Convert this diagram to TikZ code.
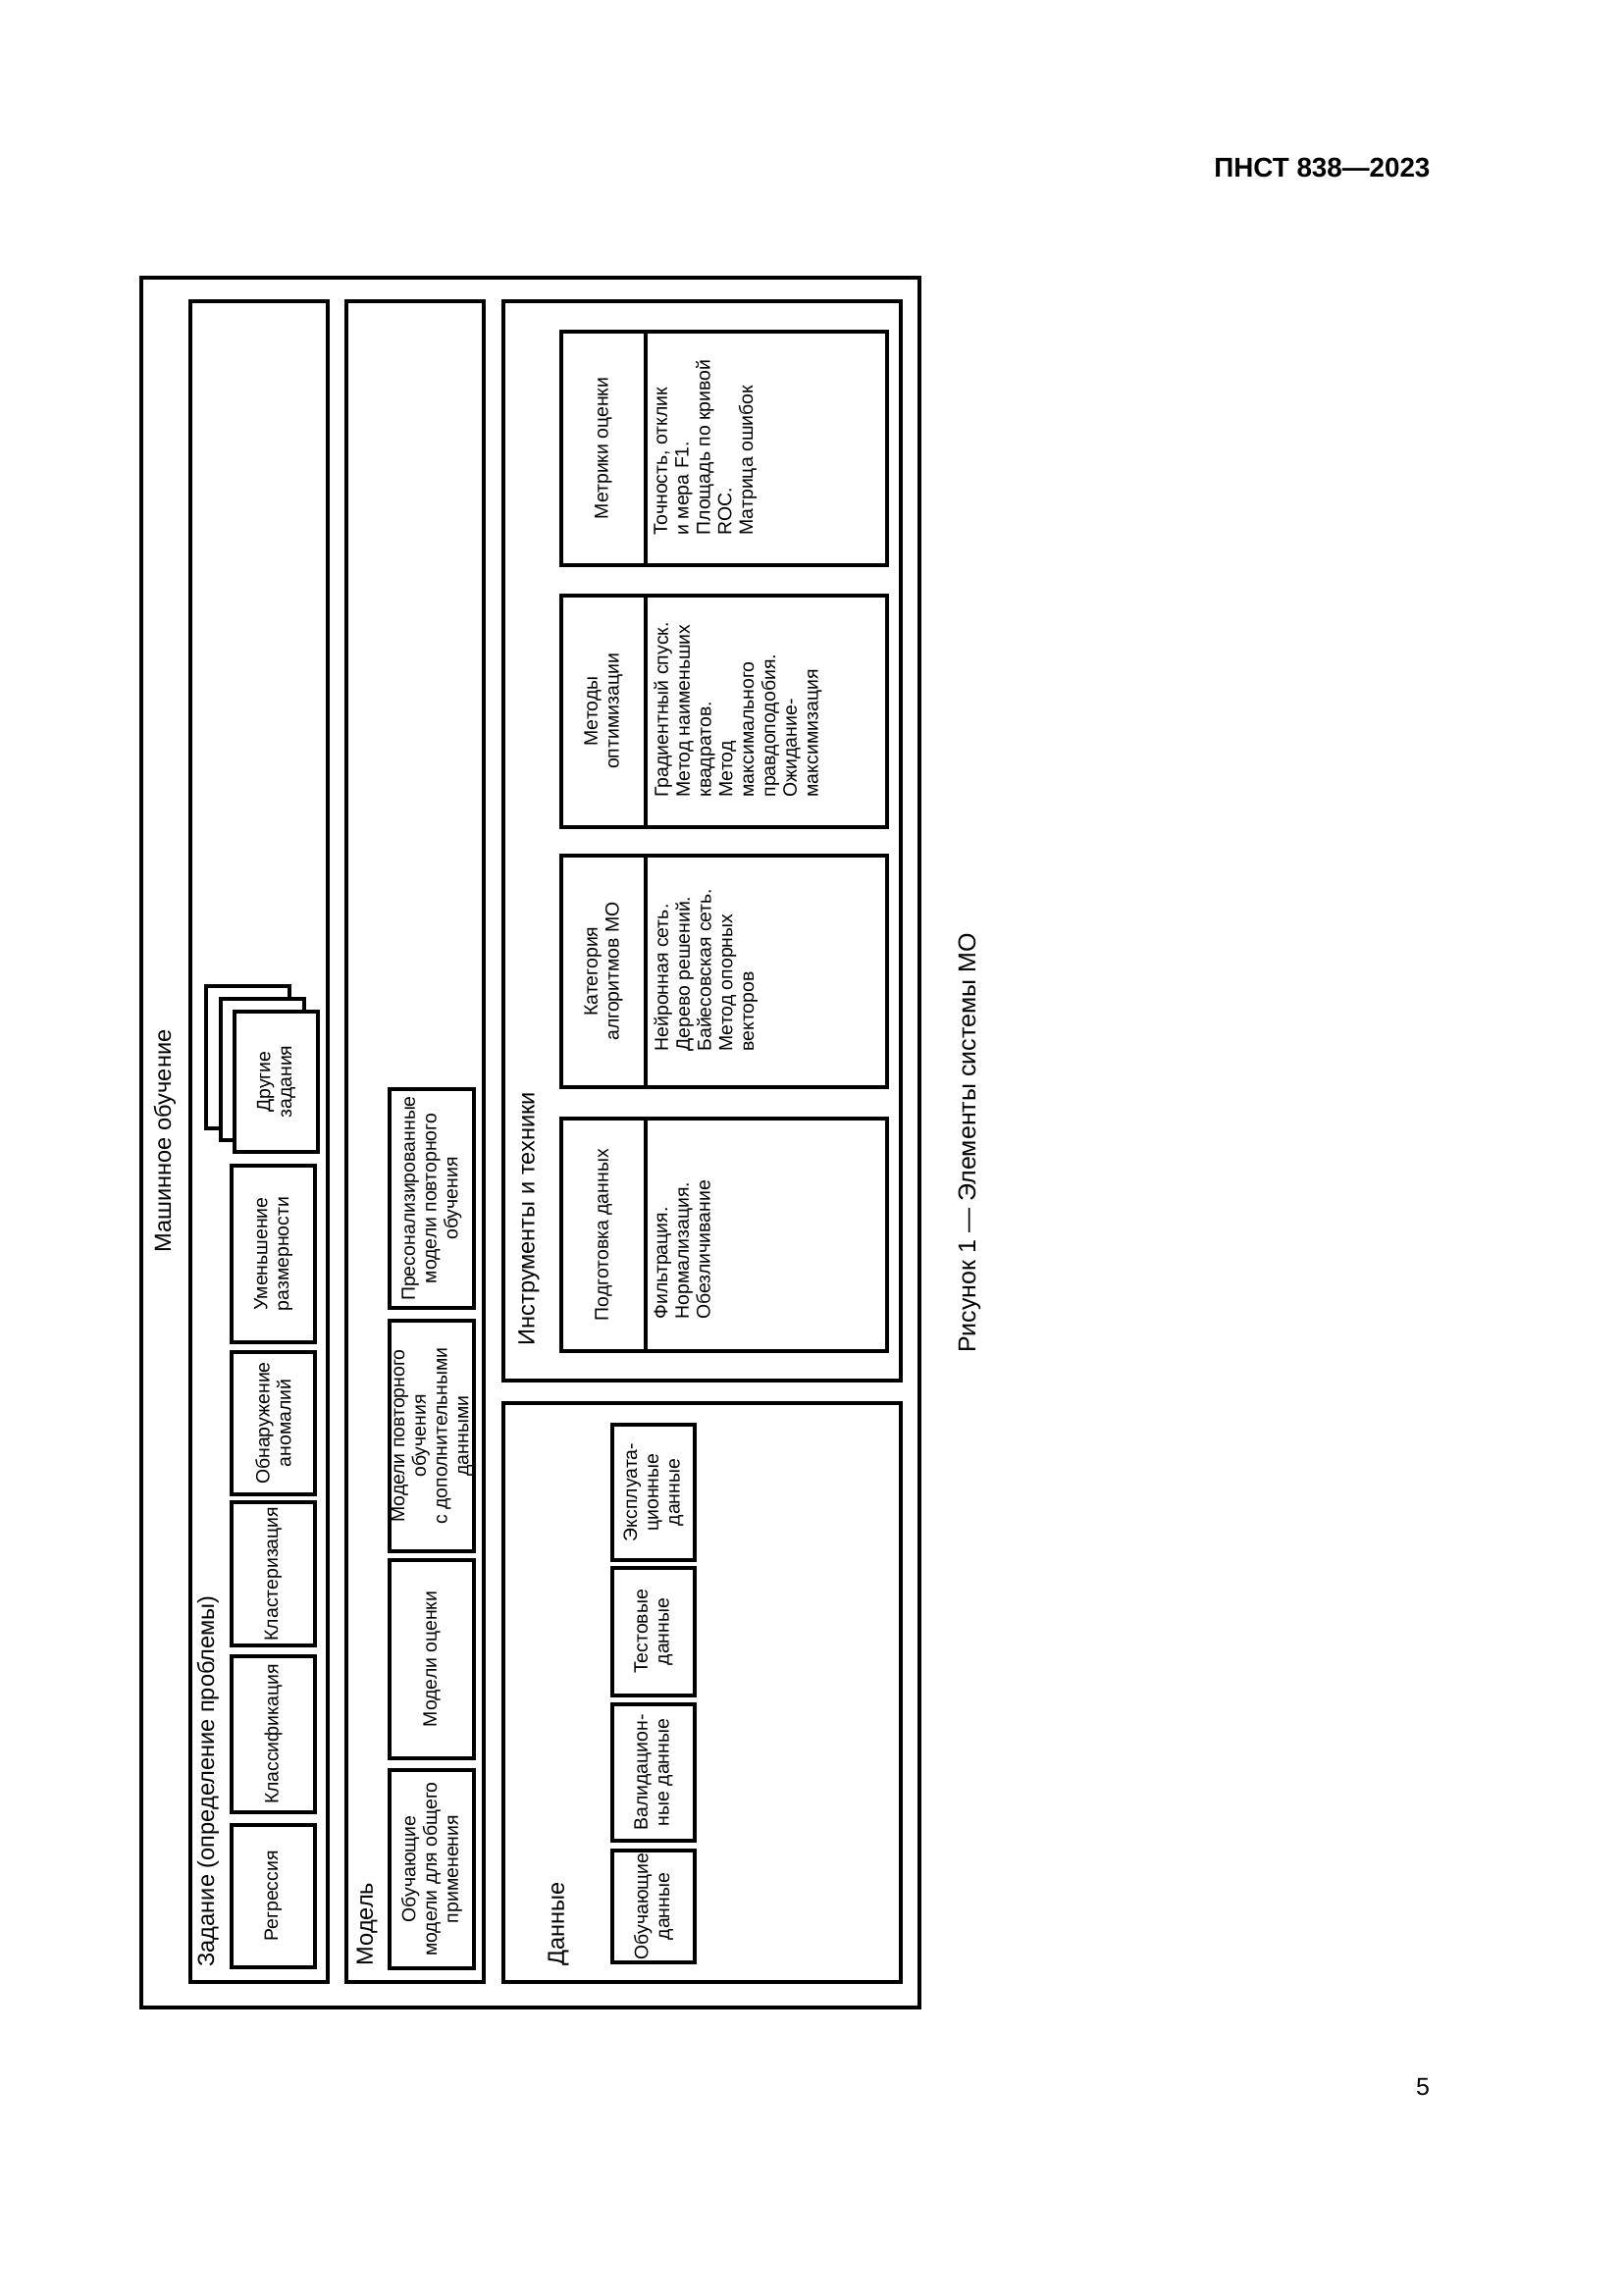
\documentclass[tikz,border=0pt]{standalone}
\usepackage{fontspec}
\setmainfont{Liberation Sans}
\newcommand{\smallfont}{\fontsize{7}{7.85}\selectfont}
\newcommand{\labelfont}{\fontsize{8.5}{10}\selectfont}
% name, x1, y1, x2, y2, text  (image pixel coordinates, y downwards)
\newcommand{\rbox}[6]{%
  \node[rbox, minimum width={(#5-#3)*0.36pt}, minimum height={(#4-#2)*0.36pt}] (#1) at ({(#2+#4)/2},{(#3+#5)/2}) {#6};}
% name, y1, y2, header, body, body offset
\newcommand{\tbox}[6]{%
  \node[rbox, minimum width={(#3-#2)*0.36pt}, minimum height={(904-572)*0.36pt}] (#1) at (738,{(#2+#3)/2}) {};
  \draw[frameline] (658,#2) -- (658,#3);
  \node[txt, align=center] (#1h) at (615,{(#2+#3)/2}) {#4};
  \node[txt, align=left, anchor=north west] (#1b) at (666,{#3-#6}) {#5};}
\begin{document}
\begin{tikzpicture}[x=0.36pt,y=-0.36pt,
  frameline/.style={draw=black, line width=1.1pt},
  panel/.style={frameline, rotate=90, inner sep=0pt},
  rbox/.style={frameline, fill=white, rotate=90, inner sep=0pt, align=center, font=\smallfont},
  txt/.style={rotate=90, inner sep=0pt, font=\smallfont},
  lbl/.style={rotate=90, inner sep=0pt, anchor=west, font=\labelfont}]
\useasboundingbox (0,0) rectangle (1654,2339);
\fill[white] (0,0) rectangle (1654,2339);

% header and page number
\node[font=\fontsize{10}{12}\selectfont\bfseries, anchor=east, inner sep=0pt] (hdr) at (1458,171) {ПНСТ 838—2023};
\node[font=\fontsize{9}{11}\selectfont, inner sep=0pt] (pgnum) at (1450,2127) {5};

% outer frame
\node[panel, minimum width={(2046-283)*0.36pt}, minimum height={(937-144)*0.36pt}] (ml) at ({(144+937)/2},{(283+2046)/2}) {};
\node[rotate=90, inner sep=0pt, font=\labelfont] (mlt) at (168,1163) {Машинное обучение};

% panels
\node[panel, minimum width={(2020-307)*0.36pt}, minimum height={(334-194)*0.36pt}] (task) at ({(194+334)/2},{(307+2020)/2}) {};
\node[panel, minimum width={(2020-307)*0.36pt}, minimum height={(493-353)*0.36pt}] (model) at ({(353+493)/2},{(307+2020)/2}) {};
\node[panel, minimum width={(1407-307)*0.36pt}, minimum height={(918-513)*0.36pt}] (tools) at ({(513+918)/2},{(307+1407)/2}) {};
\node[panel, minimum width={(2020-1430)*0.36pt}, minimum height={(918-513)*0.36pt}] (data) at ({(513+918)/2},{(1430+2020)/2}) {};

\node[lbl] (taskt) at (212,2005) {Задание (определение проблемы)};
\node[lbl] (modelt) at (374,2004) {Модель};
\node[lbl] (toolst) at (539,1372) {Инструменты и техники};
\node[lbl] (datat) at (569,2004) {Данные};

% task boxes
\rbox{regr}{236}{1860}{321}{2005}{Регрессия}
\rbox{clsf}{236}{1688}{321}{1847}{Классификация}
\rbox{clst}{236}{1531}{321}{1677}{Кластеризация}
\rbox{anom}{236}{1378}{321}{1523}{Обнаружение\\аномалий}
\rbox{dimr}{236}{1188}{321}{1368}{Уменьшение\\размерности}
\rbox{oth3}{210}{1005}{295}{1150}{}
\rbox{oth2}{225}{1018}{310}{1162}{}
\rbox{oth1}{239}{1031}{324}{1174}{Другие\\задания}

% model boxes
\rbox{mgen}{397}{1804}{483}{2006}{Обучающие\\модели для общего\\применения}
\rbox{meval}{397}{1590}{483}{1792}{Модели оценки}
\rbox{mretr}{397}{1346}{483}{1581}{Модели повторного\\обучения\\с дополнительными\\данными}
\rbox{mpers}{397}{1110}{483}{1333}{Пресонализированные\\модели повторного\\обучения}

% data boxes
\rbox{dtrain}{624}{1886}{708}{2000}{Обучающие\\данные}
\rbox{dval}{624}{1737}{708}{1876}{Валидацион-\\ные данные}
\rbox{dtest}{624}{1598}{708}{1728}{Тестовые\\данные}
\rbox{dops}{624}{1452}{708}{1590}{Эксплуата-\\ционные\\данные}

% tools boxes
\tbox{metr}{338}{576}{Метрики оценки}{Точность, отклик\\и мера F1.\\Площадь по кривой\\ROC.\\Матрица ошибок}{30}
\tbox{optm}{607}{843}{Методы\\оптимизации}{Градиентный спуск.\\Метод наименьших\\квадратов.\\Метод\\максимального\\правдоподобия.\\Ожидание-\\максимизация}{30}
\tbox{algo}{872}{1108}{Категория\\алгоритмов МО}{Нейронная сеть.\\Дерево решений.\\Байесовская сеть.\\Метод опорных\\векторов}{36}
\tbox{prep}{1140}{1377}{Подготовка данных}{Фильтрация.\\Нормализация.\\Обезличивание}{32}

% caption
\node[rotate=90, inner sep=0pt, font=\fontsize{9}{11}\selectfont] (cap) at (988,1165) {Рисунок 1 — Элементы системы МО};
\end{tikzpicture}
\end{document}
